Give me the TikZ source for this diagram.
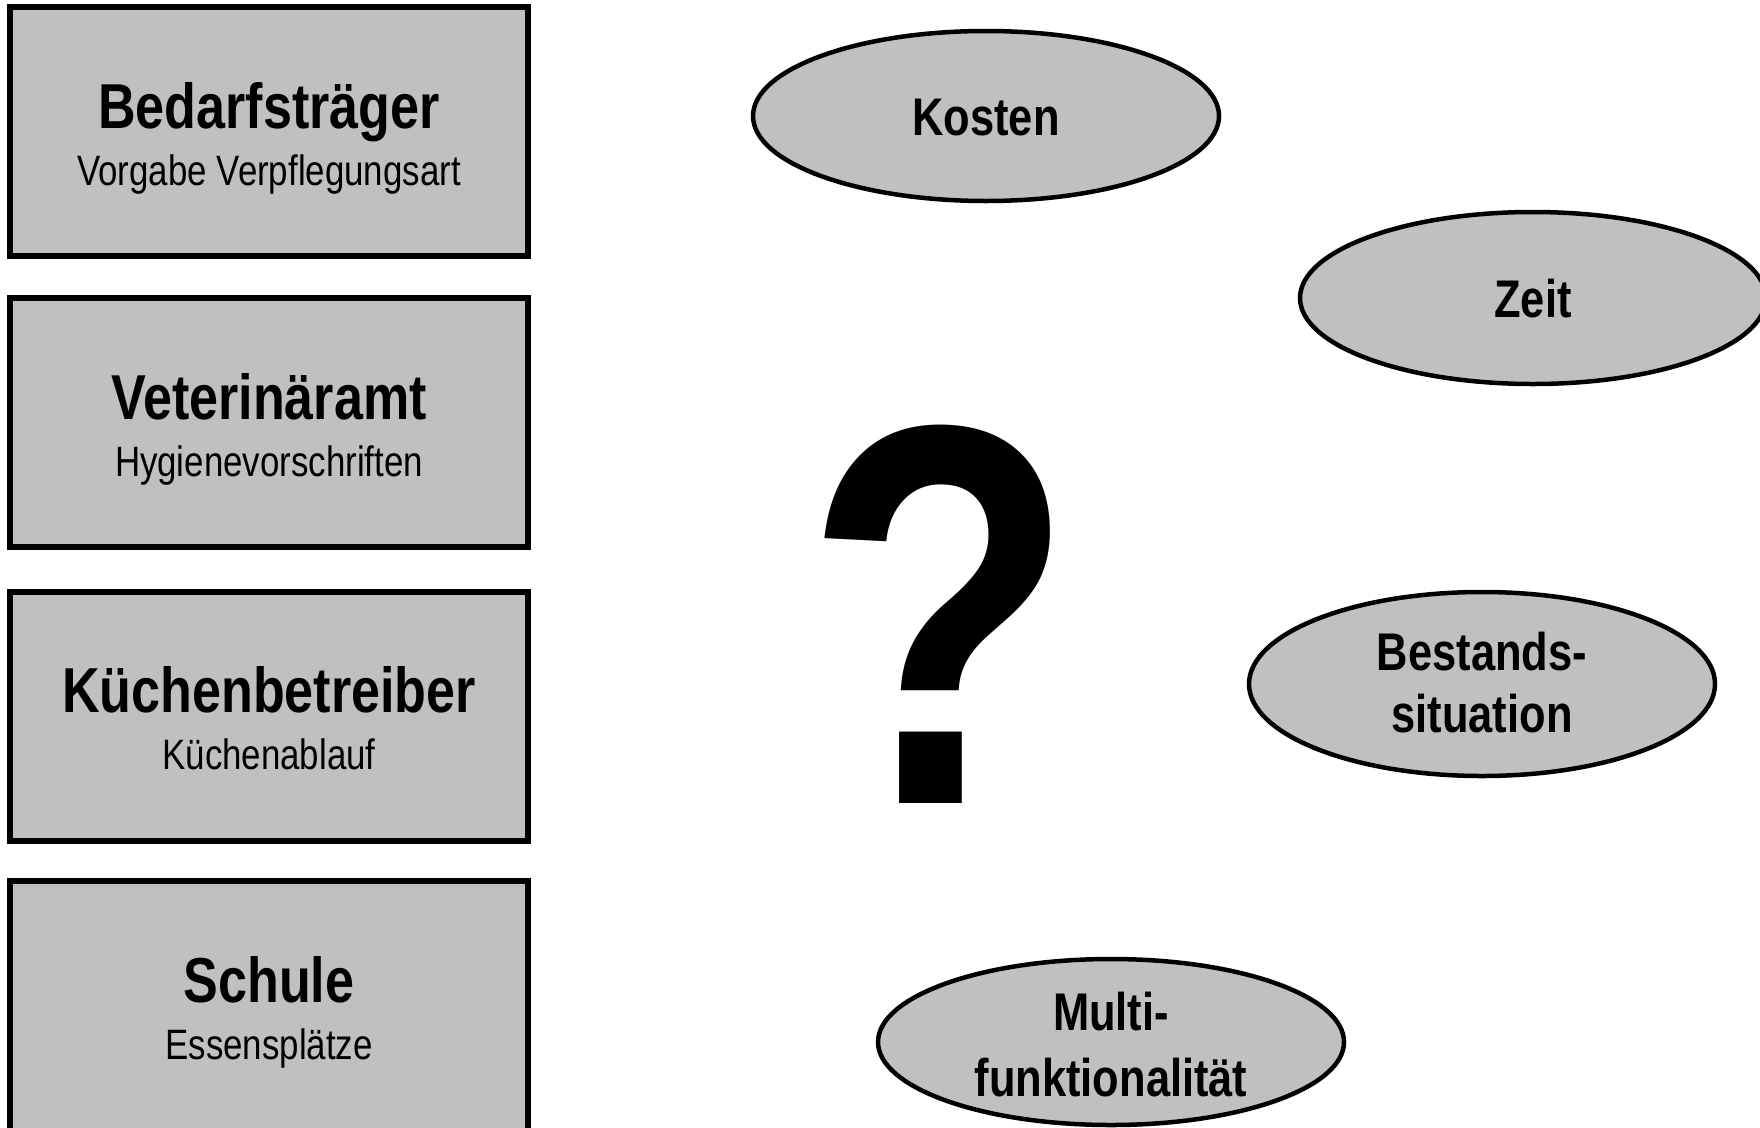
\documentclass[tikz,border=0pt]{standalone}
\usepackage{fontspec}
\newfontfamily\nar[FakeStretch=0.82]{Liberation Sans}
\usetikzlibrary{shapes.geometric}
\definecolor{boxgray}{HTML}{C0C0C0}
\tikzset{
  panel/.style={draw=black, line width=6pt, fill=boxgray, minimum width=518pt, inner sep=0pt},
  oval/.style={ellipse, draw=black, line width=4.5pt, fill=boxgray, inner sep=0pt, minimum width=466pt},
  ttl/.style={anchor=base, inner sep=0pt, font=\nar\bfseries\fontsize{63.5}{70}\selectfont},
  sub/.style={anchor=base, inner sep=0pt, font=\nar\fontsize{42.5}{48}\selectfont},
  otxt/.style={anchor=base, inner sep=0pt, font=\nar\bfseries\fontsize{53}{60}\selectfont},
}
\begin{document}
\begin{tikzpicture}[x=1pt,y=-1pt]
\clip (0,0) rectangle (1760,1127);
\fill[white] (0,0) rectangle (1760,1127);
% boxes
\node[panel, minimum height=249pt] (b1) at (269,131) {};
\node[panel, minimum height=249pt] (b2) at (269,422) {};
\node[panel, minimum height=249pt] (b3) at (269,716) {};
\node[panel, minimum height=270pt] (b4) at (269,1016) {};
\node[ttl] (t1) at (269,128) {Bedarfsträger};
\node[sub] (s1) at (269,185) {Vorgabe Verpflegungsart};
\node[ttl] (t2) at (269,419) {Veterinäramt};
\node[sub] (s2) at (269,476) {Hygienevorschriften};
\node[ttl] (t3) at (269,712) {Küchenbetreiber};
\node[sub] (s3) at (269,769) {Küchenablauf};
\node[ttl] (t4) at (269,1002) {Schule};
\node[sub] (s4) at (269,1059) {Essensplätze};
% ellipses
\node[oval, minimum height=170pt] (kosten) at (986,116) {};
\node[oval, minimum height=172pt] (zeit) at (1533,298) {};
\node[oval, minimum height=184pt] (bestand) at (1482,684) {};
\node[oval, minimum height=166pt] (multi) at (1111,1042) {};
\node[otxt] (kt) at (986,135) {Kosten};
\node[otxt] (zt) at (1533,317) {Zeit};
\node[otxt] (bt1) at (1482,670) {Bestands-};
\node[otxt] (bt2) at (1482,732) {situation};
\node[otxt] (mt1) at (1111,1030) {Multi-};
\node[otxt] (mt2) at (1111,1096) {funktionalität};
% question mark
\node[anchor=base, inner sep=0pt, font=\nar\bfseries\fontsize{542}{542}\selectfont] (q) at (940,803) {?};
\end{tikzpicture}
\end{document}
